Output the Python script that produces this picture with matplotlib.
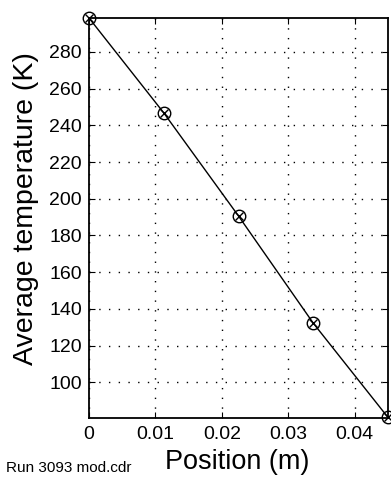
import matplotlib
matplotlib.use("Agg")
import matplotlib.pyplot as plt

position = [0.0, 0.01125, 0.0225, 0.03375, 0.045]
avg_temp = [298.5, 246.8, 190.6, 132.2, 80.8]
x_ticks = [0, 0.01, 0.02, 0.03, 0.04]
x_ticklabels = ["0", "0.01", "0.02", "0.03", "0.04"]
y_ticks = [100, 120, 140, 160, 180, 200, 220, 240, 260, 280]

plt.rcParams['font.family'] = ['Liberation Sans', 'DejaVu Sans']

fig = plt.figure(figsize=(3.91, 4.79), dpi=100)
ax = fig.add_axes([89/391, 61/479, 299/391, 400/479])

ax.plot(position, avg_temp, color='black', linewidth=1.0, zorder=3)
ax.plot(position, avg_temp, linestyle='none', marker='o', markersize=9,
        markerfacecolor='none', markeredgecolor='black', markeredgewidth=1.0,
        zorder=4, clip_on=False)
ax.plot(position, avg_temp, linestyle='none', marker='x', markersize=6,
        color='black', markeredgewidth=1.0, zorder=4, clip_on=False)

ax.set_xlim(0, 0.045)
ax.set_ylim(80.5, 298.5)
ax.set_xticks(x_ticks)
ax.set_xticklabels(x_ticklabels)
ax.set_yticks(y_ticks)
ax.grid(True, color='black', linestyle=(0, (1, 6)), linewidth=1.0)
ax.tick_params(direction='in', length=4, width=0.8, top=True, right=True,
               labelsize=14)
ax.tick_params(axis='x', pad=6)
ax.tick_params(axis='y', pad=5)
for s in ax.spines.values():
    s.set_linewidth(1.3)

ax.set_xlabel("Position (m)", fontsize=19.5)
ax.xaxis.set_label_coords(0.495, (418 - 469) / 400)
ax.xaxis.label.set_va('baseline')
ax.set_ylabel("Average temperature (K)", fontsize=20.5)
ax.yaxis.set_label_coords((26 - 89) / 299, (418 - 209) / 400)
ax.yaxis.label.set_va('center')
ax.yaxis.label.set_ha('center')

fig.text(6/391, 1 - 472/479, "Run 3093 mod.cdr", fontsize=11, ha='left', va='baseline')

fig.savefig("out.png", dpi=100)
